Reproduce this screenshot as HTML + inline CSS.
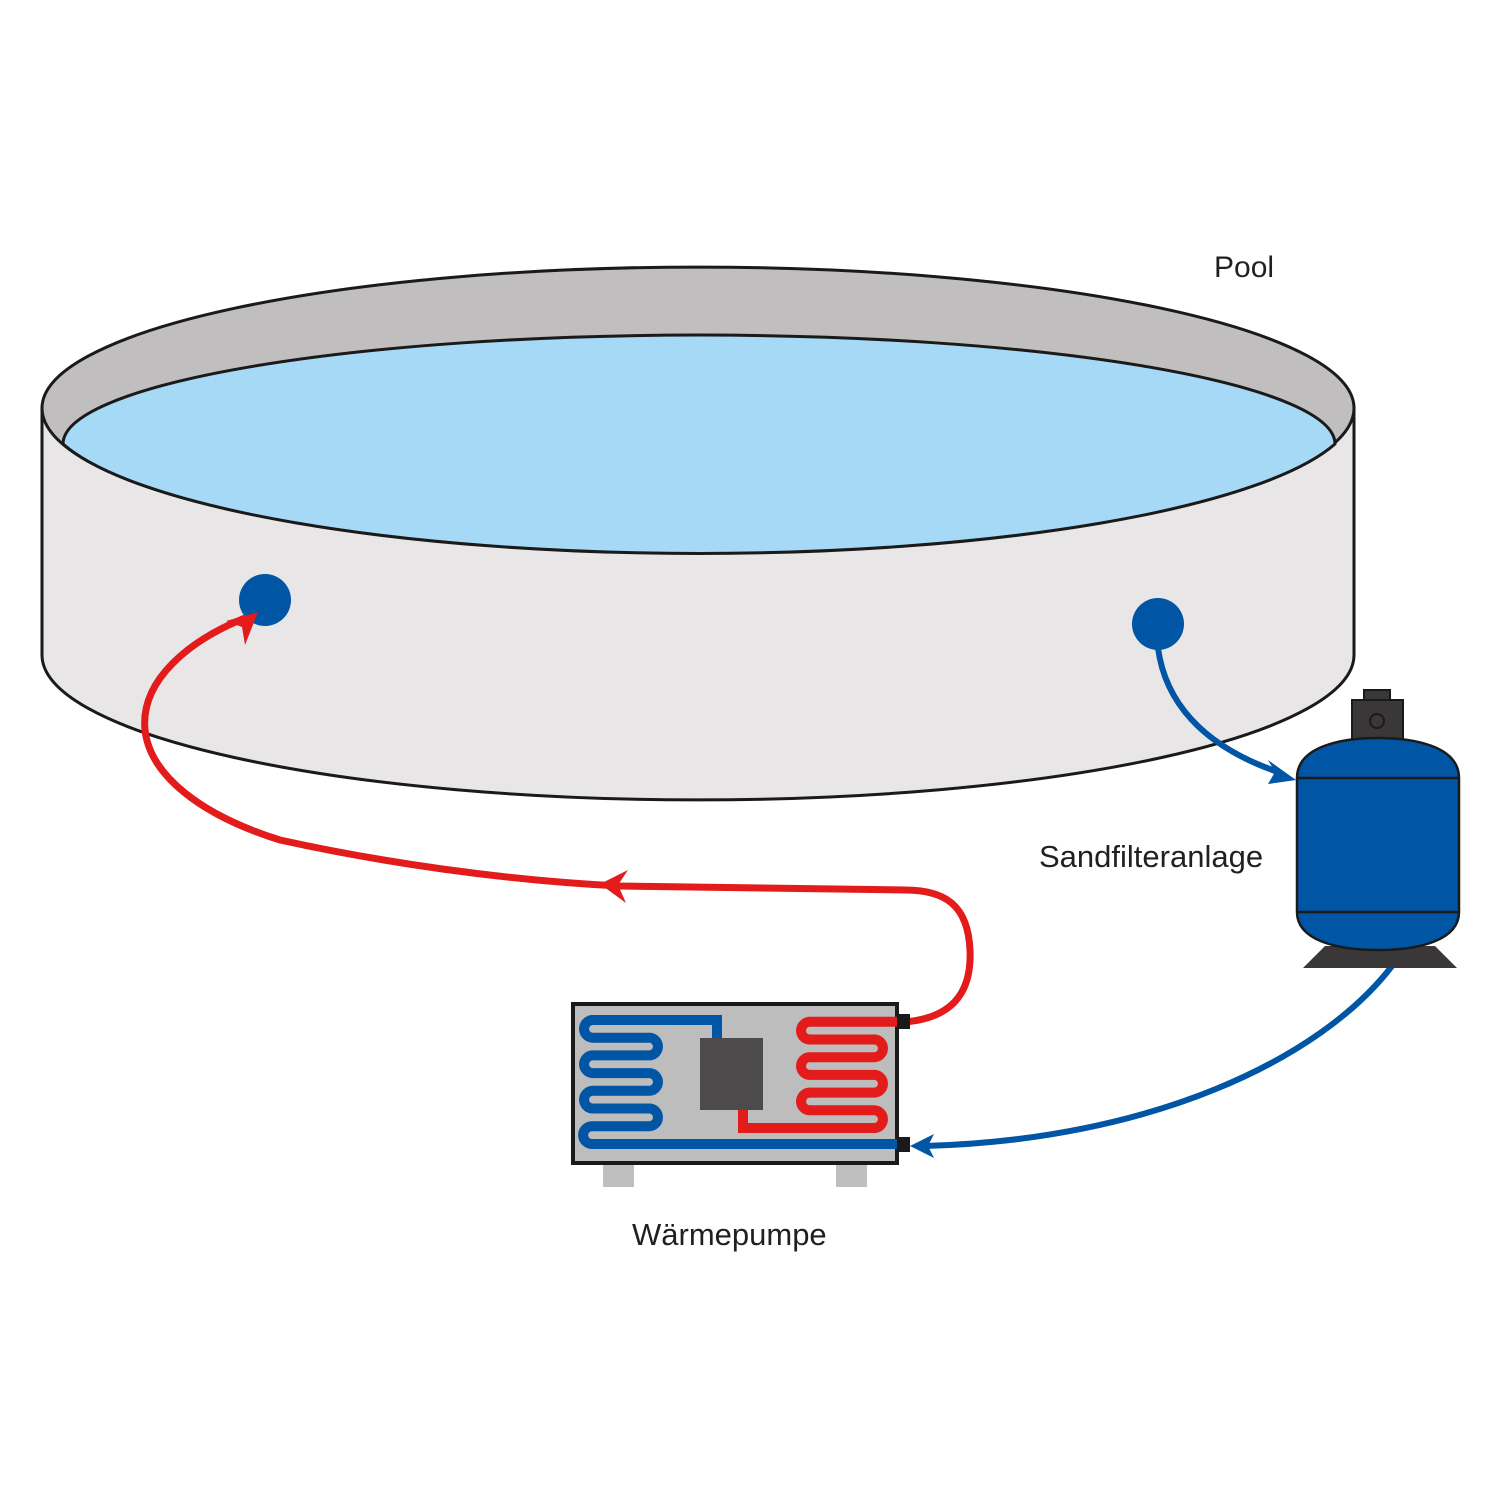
<!DOCTYPE html>
<html><head><meta charset="utf-8"><style>
html,body{margin:0;padding:0;background:#fff;width:1500px;height:1500px;overflow:hidden}
svg text{font-family:"Liberation Sans",sans-serif;fill:#231f20}
</style></head><body>
<svg width="1500" height="1500" viewBox="0 0 1500 1500" xmlns="http://www.w3.org/2000/svg">
<!-- pool wall -->
<path d="M42,408 L42,655 A656,145 0 0 0 1354,655 L1354,408 Z" fill="#e8e6e7" stroke="#1a1a1a" stroke-width="3"/>
<path d="M42,408 A656,141 0 0 1 1354,408 A656,145 0 0 1 42,408 Z" fill="#c0bebf" stroke="#1a1a1a" stroke-width="3"/>
<path d="M63,444 A636,109 0 0 1 1335,444 A656,145 0 0 1 63,444 Z" fill="#a6d9f5" stroke="#1a1a1a" stroke-width="3"/>
<circle cx="265" cy="600" r="26" fill="#0055a4"/>
<circle cx="1158" cy="624" r="26" fill="#0055a4"/>
<!-- red pipe -->
<path d="M905,1022 C950,1018 972,995 970,950 C968,905 945,890 905,890 L620,886 C500,880 380,862 280,840 C200,815 150,775 145,730 C140,680 190,640 245,618" fill="none" stroke="#e31b1b" stroke-width="7"/>
<polygon points="258,612 226,621 242,627 245,645" fill="#e31b1b"/>
<polygon points="600,884 628,870 618,885 626,903" fill="#e31b1b"/>
<!-- blue pipes -->
<path d="M1158,648 C1165,700 1200,745 1278,772" fill="none" stroke="#0055a4" stroke-width="6"/>
<polygon points="1296,780 1268,760 1275,772 1268,784" fill="#0055a4"/>
<path d="M1392,966 C1320,1060 1150,1140 925,1146" fill="none" stroke="#0055a4" stroke-width="6"/>
<polygon points="910,1146 934,1134 928,1146 934,1158" fill="#0055a4"/>
<!-- filter -->
<rect x="1364" y="690" width="26" height="12" fill="#3a3738" stroke="#1a1a1a" stroke-width="2"/>
<rect x="1352" y="700" width="51" height="42" fill="#3a3738" stroke="#1a1a1a" stroke-width="2"/>
<circle cx="1377" cy="721" r="7" fill="none" stroke="#1a1a1a" stroke-width="2"/>
<polygon points="1325,946 1435,946 1457,968 1303,968" fill="#3a3738"/>
<path d="M1297,778 C1297,745 1345,738 1378,738 C1411,738 1459,745 1459,778 L1459,912 C1459,940 1420,950 1378,950 C1336,950 1297,940 1297,912 Z" fill="#0055a4" stroke="#1a1a1a" stroke-width="2.5"/>
<line x1="1297" y1="778" x2="1459" y2="778" stroke="#1a1a1a" stroke-width="2.5"/>
<line x1="1297" y1="912" x2="1459" y2="912" stroke="#1a1a1a" stroke-width="2.5"/>
<!-- heat pump -->
<rect x="603" y="1163" width="31" height="24" fill="#bfbfbf"/>
<rect x="836" y="1163" width="31" height="24" fill="#bfbfbf"/>
<rect x="573" y="1004" width="324" height="159" fill="#bdbdbd" stroke="#1a1a1a" stroke-width="4"/>
<path d="M717,1040 L717,1020 L592,1020 A8.9,8.9 0 0 0 592,1037.7 L650,1037.7 A8.9,8.9 0 0 1 650,1055.4 L592,1055.4 A8.9,8.9 0 0 0 592,1073.1 L650,1073.1 A8.9,8.9 0 0 1 650,1090.8 L592,1090.8 A8.9,8.9 0 0 0 592,1108.5 L650,1108.5 A8.9,8.9 0 0 1 650,1126.2 L592,1126.2 A8.9,8.9 0 0 0 592,1144 L897,1144" fill="none" stroke="#0055a4" stroke-width="10"/>
<path d="M743,1105 L743,1128 L875,1128 A8.9,8.9 0 0 0 875,1110.3 L809,1110.3 A8.9,8.9 0 0 1 809,1092.6 L875,1092.6 A8.9,8.9 0 0 0 875,1074.9 L809,1074.9 A8.9,8.9 0 0 1 809,1057.2 L875,1057.2 A8.9,8.9 0 0 0 875,1039.5 L809,1039.5 A8.9,8.9 0 0 1 809,1021.8 L897,1021.8" fill="none" stroke="#e31b1b" stroke-width="10"/>
<rect x="700" y="1038" width="63" height="72" fill="#4d4a4b"/>
<rect x="897" y="1014" width="13" height="15" fill="#1a1a1a"/>
<rect x="897" y="1137" width="13" height="15" fill="#1a1a1a"/>
<text x="1214" y="277" font-size="30">Pool</text>
<text x="1039" y="867" font-size="31">Sandfilteranlage</text>
<text x="632" y="1245" font-size="31">Wärmepumpe</text>
</svg>
</body></html>
